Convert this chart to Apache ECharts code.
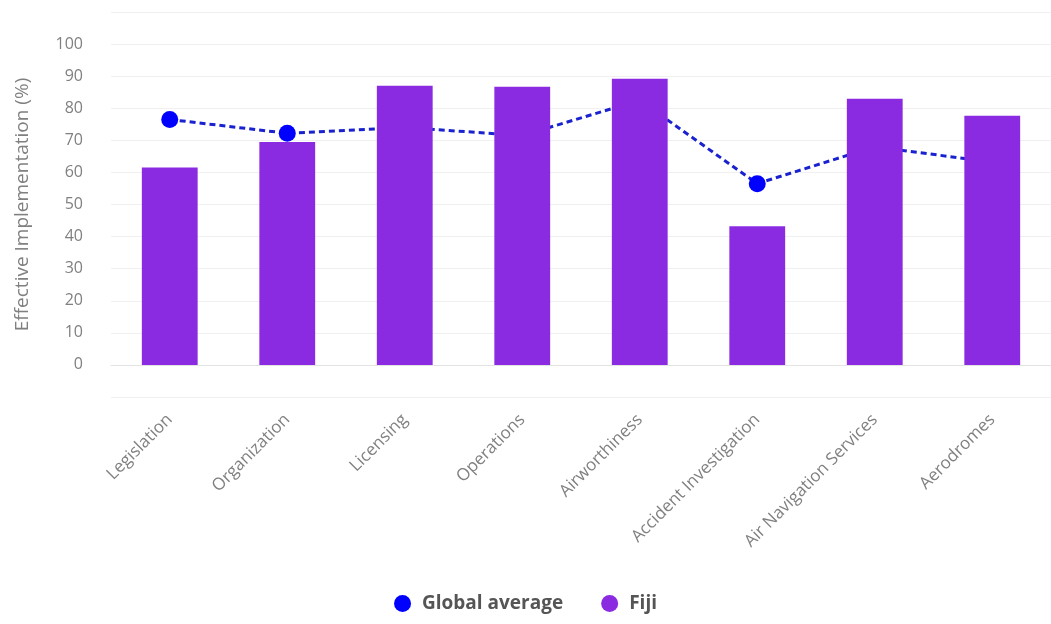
<!DOCTYPE html>
<html>
<head>
<meta charset="utf-8">
<title>Effective Implementation - Fiji</title>
<script src="https://cdn.jsdelivr.net/npm/echarts@6/dist/echarts.min.js"></script>
<style>
  html, body { margin: 0; padding: 0; background: #fff; }
  #chart { width: 1051px; height: 624px; }
</style>
</head>
<body>
<div id="chart"></div>
<script>
const categories = [
  'Legislation',
  'Organization',
  'Licensing',
  'Operations',
  'Airworthiness',
  'Accident Investigation',
  'Air Navigation Services',
  'Aerodromes'
];
const fijiValues = [61.5, 69.5, 87, 86.7, 89.2, 43.2, 83, 77.7];
const globalAverage = [76.5, 72.2, 74, 71.5, 82.5, 56.5, 68, 63.2];

const chart = echarts.init(document.getElementById('chart'), null, { renderer: 'canvas' });

const option = {
  animation: false,
  textStyle: { fontFamily: 'Open Sans, sans-serif' },
  grid: {
    left: 111,
    right: -7,
    top: 12,
    bottom: 227
  },
  legend: {
    bottom: 6,
    left: 'center',
    itemGap: 38,
    itemWidth: 17,
    itemHeight: 17,
    icon: 'circle',
    data: ['Global average', 'Fiji'],
    textStyle: {
      color: '#555',
      fontSize: 19,
      fontWeight: 'bold',
      padding: [0, 0, 0, 6]
    }
  },
  xAxis: {
    type: 'category',
    data: categories,
    axisTick: { show: false },
    axisLine: { show: true, lineStyle: { color: '#e3e3e3', width: 1 } },
    axisLabel: {
      rotate: 45,
      color: '#808080',
      fontSize: 17,
      margin: 20,
      interval: 0
    }
  },
  yAxis: {
    type: 'value',
    min: -10,
    max: 110,
    interval: 10,
    name: 'Effective Implementation (%)',
    nameLocation: 'middle',
    nameGap: 79,
    nameTextStyle: { color: '#808080', fontSize: 19 },
    axisLine: { show: false },
    axisTick: { show: false },
    axisLabel: {
      color: '#808080',
      fontSize: 16,
      margin: 28,
      formatter: (v) => (v < 0 || v > 100 ? '' : String(v))
    },
    splitLine: { lineStyle: { color: '#f0f0f0', width: 1 } }
  },
  series: [
    {
      name: 'Global average',
      type: 'line',
      z: 1,
      data: globalAverage,
      symbol: 'circle',
      symbolSize: 17,
      itemStyle: { color: '#0000ff' },
      lineStyle: { color: '#1a22d0', width: 3, type: [6, 4] }
    },
    {
      name: 'Fiji',
      type: 'bar',
      z: 2,
      data: fijiValues,
      barWidth: '47.5%',
      itemStyle: { color: '#8a2be2' }
    }
  ]
};

chart.setOption(option);
</script>
</body>
</html>
